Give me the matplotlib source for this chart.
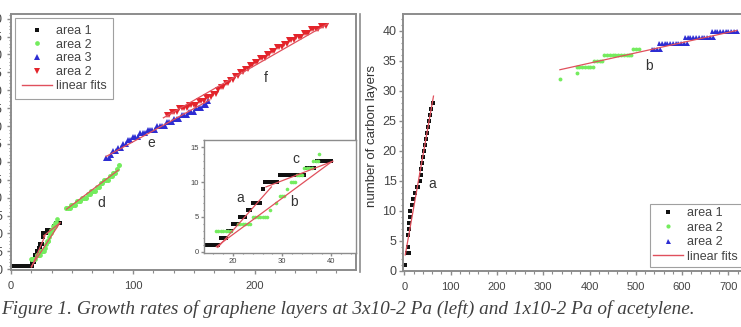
import matplotlib
matplotlib.use('Agg')
import matplotlib.pyplot as plt
from matplotlib.ticker import MultipleLocator, AutoMinorLocator
from matplotlib.lines import Line2D

plt.rcParams['font.family'] = ['Liberation Sans', 'DejaVu Sans']

# ---------------- left panel data (3x10-2 Pa) ----------------
# area 1 (black)
a1_x = [0, 1, 2, 3, 4, 5, 6, 7, 8, 9, 10, 11, 12, 13,
        14, 14.5, 15, 15.5, 16, 16.5, 17, 17.5, 18, 18.5, 19, 19.5, 20, 20.5, 21, 21.5,
        22, 22.5, 23, 23.5, 24, 24.5, 25, 25.5, 26, 26.5, 27, 27.5, 28, 28.5, 29, 29.5,
        30, 30.5, 31, 31.5, 32, 32.5, 33, 33.5, 34, 34.5, 35, 35.5, 36, 36.5, 37, 37.5,
        38, 38.5, 39, 39.5, 40]
a1_y = [1, 1, 1, 1, 1, 1, 1, 1, 1, 1, 1, 1, 1, 1,
        1, 1, 1, 1, 1, 1, 1, 2, 2, 2, 3, 3, 4, 4, 4, 5,
        5, 5, 6, 6, 7, 7, 7, 7, 9, 10, 10, 10, 10, 10, 10, 11,
        11, 11, 11, 11, 11, 11, 11, 11, 11, 11, 12, 12, 12, 12, 13, 13,
        13, 13, 13, 13, 13]

# area 2 (green, first run)
a2_x = [16.5, 17, 17.5, 18, 18.5, 19, 19.5, 21, 21.5, 22, 22.5, 23, 23.5,
        24, 24.5, 25, 25.5, 26, 26.5, 27, 27.5, 28.7, 29.5, 30, 30.3, 31,
        31.7, 32.2, 32.7, 33, 33.5, 34, 34.5, 35, 35.5, 36, 36.3, 36.8, 37.2, 37.5]
a2_y = [3, 3, 3, 3, 3, 3, 3, 4, 4, 4, 4, 4, 4,
        5, 5, 5, 5, 5, 5, 5, 6, 7, 8, 8, 8, 9,
        10, 10, 10, 11, 11, 11, 12, 12, 12, 12, 13, 13, 13, 14]

# area 2 (green, run d)
d_x = [45, 46.5, 48, 49.5, 51, 52.5, 54, 55.5, 57, 58.5, 60, 61.5, 63, 64.5, 66,
       67.5, 69, 70.5, 72, 73.5, 75, 76.5, 78, 79.5, 81, 82.5, 84, 85.5, 87, 88.5]
d_y = [17, 17, 17, 18, 18, 18, 19, 19, 19, 20, 20, 20, 21, 21, 22,
       22, 22, 23, 23, 24, 24, 25, 25, 25, 26, 26, 27, 27, 28, 29]

# area 3 (blue, run e)
e_x = [78, 80, 82, 84, 86, 88, 90, 92, 94, 96, 98, 100, 102, 104, 106, 108, 110, 112,
       114, 116, 118, 120, 122, 124, 126, 128, 130, 132, 134, 136, 138, 140, 142, 144,
       146, 148, 150, 152, 154, 156, 158, 160, 162]
e_y = [31, 31, 32, 33, 33, 34, 34, 35, 35, 36, 36, 37, 37, 37, 38, 38, 38, 39,
       39, 39, 39, 40, 40, 40, 40, 41, 41, 41, 42, 42, 42, 43, 43, 43,
       44, 44, 44, 45, 45, 45, 46, 46, 47]

# area 2 (red, run f)
f_x = [128, 130, 132, 134, 136, 138, 140, 142, 144, 146, 148, 150, 152, 154, 156, 158,
       160, 162, 164, 166, 168, 170, 172, 174, 176, 178, 180, 182, 184, 186, 188, 190,
       192, 194, 196, 198, 200, 202, 204, 206, 208, 210, 212, 214, 216, 218, 220, 222,
       224, 226, 228, 230, 232, 234, 236, 238, 240, 242, 244, 246, 248, 250, 252, 254,
       256, 258]
f_y = [43, 43, 44, 44, 44, 45, 45, 45, 45, 46, 46, 46, 46, 47, 47, 47,
       48, 48, 48, 49, 49, 50, 51, 51, 52, 52, 53, 53, 54, 54, 55, 55,
       56, 56, 57, 57, 58, 58, 59, 59, 59, 60, 60, 61, 61, 62, 62, 62,
       63, 63, 64, 64, 64, 65, 65, 65, 66, 66, 66, 67, 67, 67, 67, 68,
       68, 68]

# linear fits: (x0, x1), (y0, y1)
fits_left = [((16.9, 27.8), (0.6, 9.3)),     # a
             ((16.6, 40.0), (0.7, 12.9)),    # b
             ((26.7, 40.3), (9.3, 13.0)),    # c
             ((45.6, 88.0), (16.8, 27.7)),   # d
             ((78.0, 163.0), (31.5, 47.3)),  # e
             ((125.0, 260.0), (42.3, 68.6))] # f

# ---------------- right panel data (1x10-2 Pa) ----------------
r1_x = [2, 5, 11, 9, 9, 10, 11, 12, 13, 16, 19, 22, 27, 30, 33, 35, 37, 39, 40, 42,
        44, 47, 49, 51, 54, 56, 58, 61]
r1_y = [1, 3, 3, 4, 6, 7, 8, 9, 10, 11, 12, 13, 14, 14, 15, 16, 17, 18, 19, 20,
        21, 22, 23, 24, 25, 26, 27, 28]

r2_x = [336, 374, 372, 378, 384, 390, 396, 402, 408, 410, 416, 422, 428,
        432, 438, 444, 450, 456, 462, 468, 474, 480, 486, 490, 494, 500, 506]
r2_y = [32, 33, 34, 34, 34, 34, 34, 34, 34, 35, 35, 35, 35,
        36, 36, 36, 36, 36, 36, 36, 36, 36, 36, 36, 37, 37, 37]

r3_x = [534, 540, 546, 552, 550, 556, 562, 568, 574, 580, 586, 592, 598, 604, 610,
        606, 612, 618, 624, 630, 636, 642, 648, 654, 660, 666,
        664, 670, 676, 682, 688, 694, 700, 706, 712, 718]
r3_y = [37, 37, 37, 37, 38, 38, 38, 38, 38, 38, 38, 38, 38, 38, 38,
        39, 39, 39, 39, 39, 39, 39, 39, 39, 39, 39,
        40, 40, 40, 40, 40, 40, 40, 40, 40, 40]

fits_right = [((2.0, 63.0), (2.6, 29.1)),       # a
              ((336.0, 718.0), (33.5, 40.05))]  # b

caption = 'Figure 1. Growth rates of graphene layers at 3x10-2 Pa (left) and 1x10-2 Pa of acetylene.'

# ---------------- styles ----------------
BLACK = '#111111'
GREEN = '#74ec5e'
BLUE = '#2d2dd2'
RED = '#e3242b'
FIT = '#e0505c'
SPINE = '#8c8c8c'
TXT = '#444444'

W, H = 741, 327
fig = plt.figure(figsize=(W / 100, H / 100), dpi=100)


def px_axes(left, top, right, bottom):
    return fig.add_axes([left / W, 1 - bottom / H, (right - left) / W, (bottom - top) / H])


def style(ax, size=8, lw=1.4):
    for s in ax.spines.values():
        s.set_color(SPINE)
        s.set_linewidth(lw)
    ax.tick_params(which='both', direction='out', colors=SPINE, labelcolor=TXT,
                   labelsize=size, right=False, top=False)
    ax.tick_params(which='major', length=3, width=1)
    ax.tick_params(which='minor', length=1.8, width=0.8)


# ---------------- left panel ----------------
axl = px_axes(11, 14, 356, 270)
axl.plot(a1_x, a1_y, ls='none', marker='s', ms=3, mew=0, color=BLACK)
axl.plot(a2_x, a2_y, ls='none', marker='o', ms=3.4, mew=0, color=GREEN)
axl.plot(d_x, d_y, ls='none', marker='o', ms=3.6, mew=0, color=GREEN)
axl.plot(e_x, e_y, ls='none', marker='^', ms=4.6, mew=0, color=BLUE)
axl.plot(f_x, f_y, ls='none', marker='v', ms=5, mew=0, color=RED)
for xs, ys in fits_left:
    axl.plot(xs, ys, color=FIT, lw=0.9, zorder=5)
axl.set_xlim(0, 283)
axl.set_ylim(-0.2, 71.3)
axl.xaxis.set_major_locator(MultipleLocator(100))
axl.xaxis.set_minor_locator(AutoMinorLocator(6))
axl.yaxis.set_major_locator(MultipleLocator(5))
axl.yaxis.set_minor_locator(MultipleLocator(1))
style(axl)
axl.tick_params(axis='y', labelsize=9, pad=3)
axl.tick_params(axis='x', pad=5)
axl.text(74, 18.5, 'd', fontsize=10, color='#333333', ha='center', va='center')
axl.text(115, 35.3, 'e', fontsize=10, color='#333333', ha='center', va='center')
axl.text(209, 53.4, 'f', fontsize=10, color='#333333', ha='center', va='center')

hl = [Line2D([], [], ls='none', marker='s', ms=3, mew=0, color=BLACK),
      Line2D([], [], ls='none', marker='o', ms=3.4, mew=0, color=GREEN),
      Line2D([], [], ls='none', marker='^', ms=4, mew=0, color=BLUE),
      Line2D([], [], ls='none', marker='v', ms=4, mew=0, color=RED),
      Line2D([], [], color=FIT, lw=1)]
legl = fig.legend(hl, ['area 1', 'area 2', 'area 3', 'area 2', 'linear fits'],
                  loc='upper left', bbox_to_anchor=(15 / W, 1 - 18 / H),
                  bbox_transform=fig.transFigure, borderaxespad=0, fontsize=9,
                  frameon=True, fancybox=False, edgecolor='#a0a0a0', framealpha=1,
                  handlelength=2.4, handletextpad=0.3, labelspacing=0.14, borderpad=0.55)
legl.get_frame().set_linewidth(0.8)
for t in legl.get_texts():
    t.set_color(TXT)

# inset
axi = px_axes(204, 140, 356, 253)
axi.plot(a1_x, a1_y, ls='none', marker='s', ms=2.6, mew=0, color=BLACK)
axi.plot(a2_x, a2_y, ls='none', marker='o', ms=2.6, mew=0, color=GREEN)
for xs, ys in fits_left[:3]:
    axi.plot(xs, ys, color=FIT, lw=0.9, zorder=5)
axi.set_xlim(14.1, 45)
axi.set_ylim(-0.2, 16.05)
axi.xaxis.set_major_locator(MultipleLocator(10))
axi.xaxis.set_minor_locator(MultipleLocator(2))
axi.yaxis.set_major_locator(MultipleLocator(5))
axi.yaxis.set_minor_locator(MultipleLocator(1))
style(axi, size=5.5, lw=1.0)
axi.tick_params(which='major', length=2, pad=1.5)
axi.tick_params(which='minor', length=1)
axi.text(21.4, 7.7, 'a', fontsize=10, color='#333333', ha='center', va='center')
axi.text(32.4, 7.2, 'b', fontsize=10, color='#333333', ha='center', va='center')
axi.text(32.8, 13.3, 'c', fontsize=10, color='#333333', ha='center', va='center')

# outer border line right of the left panel
fig.add_artist(Line2D([359.5 / W, 359.5 / W], [1 - 14 / H, 1 - 272 / H], color=SPINE, lw=1.2))

# ---------------- right panel ----------------
axr = px_axes(403.4, 14, 756.2, 270.5)
axr.plot(r1_x, r1_y, ls='none', marker='s', ms=3, mew=0, color=BLACK)
axr.plot(r2_x, r2_y, ls='none', marker='o', ms=2.8, mew=0, color=GREEN)
axr.plot(r3_x, r3_y, ls='none', marker='^', ms=3.6, mew=0, color=BLUE)
for xs, ys in fits_right:
    axr.plot(xs, ys, color=FIT, lw=0.9, zorder=5)
axr.set_xlim(-2, 760)
axr.set_ylim(0, 42.8)
axr.xaxis.set_major_locator(MultipleLocator(100))
axr.xaxis.set_minor_locator(MultipleLocator(20))
axr.yaxis.set_major_locator(MultipleLocator(5))
axr.yaxis.set_minor_locator(MultipleLocator(1))
style(axr)
axr.tick_params(axis='y', labelsize=9, pad=2)
axr.tick_params(axis='x', pad=5)
axr.text(61, 14.4, 'a', fontsize=10, color='#333333', ha='center', va='center')
axr.text(529, 34.2, 'b', fontsize=10, color='#333333', ha='center', va='center')
fig.text(372.5 / W, 1 - 136 / H, 'number of carbon layers', rotation=90, fontsize=9.5,
         color='#333333', ha='center', va='center')

hr = [Line2D([], [], ls='none', marker='s', ms=3, mew=0, color=BLACK),
      Line2D([], [], ls='none', marker='o', ms=3, mew=0, color=GREEN),
      Line2D([], [], ls='none', marker='^', ms=3.6, mew=0, color=BLUE),
      Line2D([], [], color=FIT, lw=1)]
legr = fig.legend(hr, ['area 1', 'area 2', 'area 2', 'linear fits'],
                  loc='upper left', bbox_to_anchor=(649.5 / W, 1 - 203.5 / H),
                  bbox_transform=fig.transFigure, borderaxespad=0, fontsize=9,
                  frameon=True, fancybox=False, edgecolor='#a0a0a0', framealpha=1,
                  handlelength=2.4, handletextpad=0.3, labelspacing=0.2, borderpad=0.3)
legr.get_frame().set_linewidth(0.8)
for t in legr.get_texts():
    t.set_color(TXT)

# caption
fig.text(1 / W, 1 - 309 / H, caption, family=['Liberation Serif', 'DejaVu Serif'],
         style='italic', fontsize=13.9, color='#404040', ha='left', va='center')

fig.savefig('out.png', dpi=100)
